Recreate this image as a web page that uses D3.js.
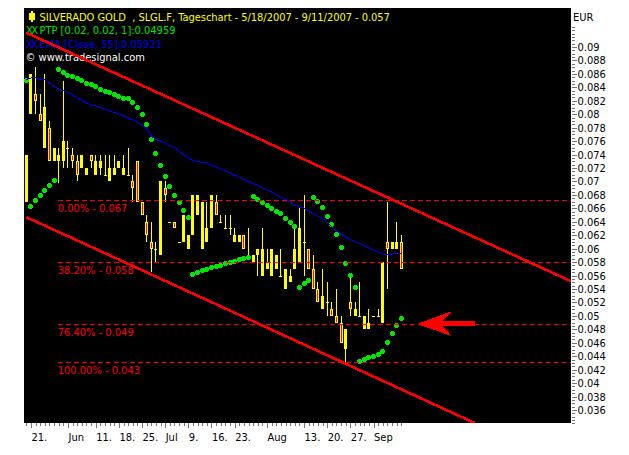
<!DOCTYPE html>
<html><head><meta charset="utf-8">
<script src="https://cdn.jsdelivr.net/npm/d3@7/dist/d3.min.js"></script>
<style>
html,body{margin:0;padding:0;background:#fff}
svg{display:block}
text{font-family:"DejaVu Sans",sans-serif;font-stretch:condensed}
</style></head><body><div id="c"></div>
<script>
const opens=[.067,.080,.083,.080,.075,.078,.073,.073,.073,.075,.074,.073,.072,.071,.074,.071,.072,.071,.070,.071,.072,.071,.071,.070,.073,.067,.064,.061,.060,.059,.069,.064,.064,.061,.061,.060,.062,.065,.060,.061,.063,.067,.064,.063,.063,.061,.061,.062,.059,.058,.059,.056,.057,.056,.057,.056,.054,.055,.057,.058,.061,.060,.057,.054,.051,.052,.051,.050,.049,.045,.052,.050,.050,.048,.048,.050,.050,.049,.061,.060,.060,.061];
const highs=[.074,.086,.087,.083,.086,.079,.075,.075,.085,.076,.075,.074,.074,.072,.074,.074,.074,.074,.074,.074,.073,.074,.075,.071,.073,.067,.065,.064,.061,.070,.070,.064,.064,.061,.065,.062,.068,.068,.067,.067,.068,.068,.065,.065,.065,.063,.062,.062,.063,.059,.060,.063,.060,.060,.059,.060,.057,.057,.063,.066,.068,.060,.059,.055,.057,.055,.052,.054,.050,.048,.056,.052,.055,.050,.051,.050,.051,.058,.067,.061,.064,.062];
const lows=[.067,.080,.080,.079,.075,.073,.073,.0697,.072,.072,.072,.070,.072,.071,.072,.071,.071,.071,.070,.071,.072,.071,.071,.067,.067,.065,.061,.0565,.058,.059,.067,.064,.063,.061,.061,.060,.062,.065,.060,.061,.063,.065,.064,.063,.062,.061,.061,.060,.059,.058,.056,.056,.057,.056,.057,.056,.054,.055,.057,.058,.056,.057,.054,.052,.051,.050,.050,.049,.046,.043,.050,.050,.050,.048,.048,.050,.050,.049,.054,.060,.060,.057];
const closes=[.074,.086,.082,.079,.081,.073,.075,.074,.076,.075,.073,.071,.074,.072,.073,.073,.073,.071,.072,.072,.073,.072,.071,.069,.067,.065,.062,.060,.060,.070,.068,.064,.063,.061,.065,.062,.068,.068,.067,.063,.068,.065,.064,.063,.063,.062,.062,.060,.059,.059,.060,.060,.058,.060,.059,.056,.057,.056,.060,.063,.061,.057,.054,.052,.053,.052,.050,.049,.046,.048,.051,.051,.050,.050,.049,.050,.050,.058,.060,.061,.061,.057];
const ptp=[.08498,.06634,.06723,.06798,.06872,.06946,.07021,.08658,.08624,.08583,.08554,.08524,.08499,.08464,.08435,.08405,.08375,.08345,.08326,.08296,.08271,.08241,.08231,.08167,.08107,.08003,.07854,.07631,.07423,.07244,.0708,.06932,.06798,.0668,.06574,.0647,.05622,.05652,.05682,.05696,.05726,.05741,.05756,.05786,.05801,.05815,.05845,.0586,.05875,.06783,.06738,.06693,.06649,.06604,.0656,.0653,.06455,.06396,.06336,.05429,.05488,.05533,.06768,.06708,.06619,.06485,.06366,.06217,.06024,.05786,.05607,.05429,.04327,.04357,.04387,.04402,.04432,.04476,.0461,.04744,.04863,.04959];
const ema=[.08519,.08539,.08539,.08524,.08509,.08464,.08412,.08375,.0835,.08323,.08286,.08241,.08211,.08167,.08137,.08122,.081,.08077,.08048,.08025,.08003,.07973,.07943,.07914,.07884,.07839,.0778,.07676,.07624,.07601,.07571,.07527,.07504,.07452,.07393,.07356,.07311,.07296,.07281,.07274,.07244,.07214,.07185,.07155,.07125,.07095,.07065,.07028,.06998,.06969,.06939,.06909,.06872,.06842,.06798,.06768,.06731,.06693,.06649,.06619,.06604,.0656,.06522,.06485,.06448,.06396,.06321,.06262,.06217,.06173,.06135,.06106,.06076,.06046,.06009,.05979,.05949,.0592,.0592,.0592,.05935,.05921];
const channelTop=[[0,.09213],[117.6,.05518]];
const channelBottom=[[0,.0647],[96.9,.03405]];
const fibLevels=[.0672,.05796,.04873,.04308];
const fibLabels=["0.00% - 0.067","38.20% - 0.058","76.40% - 0.049","100.00% - 0.043"];
const fibStart=6.8, fibEnd=117.8;
const arrow=[[84.45,.04878],[91.9,.05071],[90,.04923],[96.9,.04923],[96.9,.04848],[90,.04848],[91.9,.04699]];
const yTickLabels=["0.09","0.088","0.086","0.084","0.082","0.08","0.078","0.076","0.074","0.072","0.07","0.068","0.066","0.064","0.062","0.06","0.058","0.056","0.054","0.052","0.05","0.048","0.046","0.044","0.042","0.04","0.038","0.036"];
const xTickIdx=[1,9,15,20,25,30,35,40,45,52,60,65,70,75];
const xTickLabels=["21.","Jun","11.","18.","25.","Jul","9.","16.","23.","Aug","13.","20.","27.","Sep"];
const titleText="SILVERADO GOLD  , SLGL.F, Tageschart - 5/18/2007 - 9/11/2007 - 0.057";
const ptpText="PTP [0.02, 0.02, 1]:0.04959", emaText="EMA [Close, 55]:0.05921", siteText="\u00a9 www.tradesignal.com";

const W=629,H=455;
const plot={l:24,t:8,r:571,b:423};
const x=d3.scaleLinear().domain([0,81]).range([26.3,401.3]);
const y=d3.scaleLinear().domain([.09,.036]).range([47,410]);
const svg=d3.select("#c").append("svg").attr("width",W).attr("height",H).attr("viewBox",`0 0 ${W} ${H}`);
svg.append("defs").append("clipPath").attr("id","p").append("rect").attr("x",plot.l).attr("y",plot.t).attr("width",plot.r-plot.l).attr("height",plot.b-plot.t);
svg.append("rect").attr("x",plot.l).attr("y",plot.t).attr("width",plot.r-plot.l).attr("height",plot.b-plot.t).attr("fill","#000");

// header text
const FS=11;
const hdr=svg.append("g").style("font-size",FS+"px");
hdr.append("text").attr("x",39.5).attr("y",21).attr("fill","#ffff00").attr("xml:space","preserve").style("white-space","pre").style("letter-spacing","-0.03px").text(titleText);
hdr.append("rect").attr("x",29).attr("y",13).attr("width",6).attr("height",7).attr("fill","#ffff00");
hdr.append("rect").attr("x",31).attr("y",11).attr("width",2).attr("height",11).attr("fill","#ffff00");
hdr.append("text").attr("x",26).attr("y",34).attr("fill","#00e000").style("letter-spacing","-1.5px").text("XX");
hdr.append("text").attr("x",39.5).attr("y",34).attr("fill","#00e000").text(ptpText);
hdr.append("text").attr("x",26).attr("y",47.5).attr("fill","#0000f0").style("letter-spacing","-1.5px").text("XX");
hdr.append("text").attr("x",39.5).attr("y",47.5).attr("fill","#0000f0").text(emaText);
hdr.append("text").attr("x",25.5).attr("y",61).attr("fill","#fff").text(siteText);

const g=svg.append("g").attr("clip-path","url(#p)").attr("shape-rendering","crispEdges");
const idx=d3.range(opens.length);
const cx=i=>Math.floor(x(i));
g.selectAll("rect.w").data(idx).join("rect").attr("class","w")
 .attr("x",cx).attr("width",1).attr("y",i=>Math.round(y(highs[i]))).attr("height",i=>Math.max(1,Math.round(y(lows[i]))-Math.round(y(highs[i])))).attr("fill","#ffff00");
const bt=i=>Math.round(y(Math.max(opens[i],closes[i])));
const bb=i=>Math.round(y(Math.min(opens[i],closes[i])));
g.selectAll("rect.b").data(idx).join("rect").attr("class","b")
 .attr("x",i=>cx(i)-1).attr("width",3).attr("y",bt).attr("height",i=>Math.max(1,bb(i)-bt(i))).attr("fill","#ffff00");
g.selectAll("rect.d").data(idx.filter(i=>closes[i]<opens[i])).join("rect").attr("class","d")
 .attr("x",cx).attr("width",1).attr("y",i=>bt(i)+1).attr("height",i=>Math.max(0,bb(i)-bt(i)-2)).attr("fill","#ff0000");

g.selectAll("circle.dot").data(idx).join("circle").attr("class","dot")
 .attr("cx",i=>Math.floor(x(i))+0.5).attr("cy",i=>Math.floor(y(ptp[i]))+0.5).attr("r",2.35)
 .attr("fill","#00e600");
g.append("path").attr("d",d3.line().x((d,i)=>x(i)).y(d=>y(d))(ema)).attr("fill","none").attr("stroke","#0000ff").attr("stroke-width",1);

g.selectAll("line.f").data(fibLevels).join("line").attr("class","f")
 .attr("x1",x(fibStart)).attr("x2",x(fibEnd)).attr("y1",d=>y(d)).attr("y2",d=>y(d))
 .attr("stroke","#ff0000").attr("stroke-width",1).attr("stroke-dasharray","5 3");
const fibT=svg.append("g").style("font-size",FS+"px");
fibT.selectAll("text").data(fibLevels).join("text").attr("x",x(fibStart)).attr("y",d=>y(d)+12).attr("fill","#ff0000").text((d,i)=>fibLabels[i]);

[channelTop,channelBottom].forEach(c=>{
 g.append("path").attr("d",d3.line().x(d=>x(d[0])).y(d=>y(d[1]))(c)).attr("fill","none").attr("stroke","#ff0000").attr("stroke-width",2.6);
});
g.append("path").attr("d",d3.line().x(d=>x(d[0])).y(d=>y(d[1])).curve(d3.curveLinearClosed)(arrow)).attr("fill","#ff0000");

// axes
const yMinor=d3.range(0,119).map(k=>.093-k*.0005);
const ya=svg.append("g").attr("transform",`translate(${plot.r+0.5},0)`);
ya.call(d3.axisRight(y).tickValues(yMinor).tickSize(3).tickFormat("")).call(s=>s.select(".domain").remove());
ya.selectAll("line").attr("stroke","#777").attr("shape-rendering","crispEdges");
const yb=svg.append("g").attr("transform",`translate(${plot.r+0.5},0)`);
yb.call(d3.axisRight(y).tickValues(yTickLabels.map(Number)).tickSize(5).tickPadding(1).tickFormat((d,i)=>yTickLabels[i])).call(s=>s.select(".domain").remove());
yb.selectAll("line").attr("stroke","#777").attr("shape-rendering","crispEdges");
yb.selectAll("text").attr("fill","#000").style("font-size",FS+"px").style("font-family",'"DejaVu Sans"');
svg.append("text").attr("x",573).attr("y",21).attr("fill","#000").style("font-size",FS+"px").text("EUR");

const xa=svg.append("g").attr("transform",`translate(0,${plot.b})`);
xa.call(d3.axisBottom(x).tickValues(idx).tickSize(3).tickFormat("")).call(s=>s.select(".domain").remove());
xa.selectAll("line").attr("stroke","#777").attr("shape-rendering","crispEdges");
const xb=svg.append("g").attr("transform",`translate(0,${plot.b})`);
xb.call(d3.axisBottom(x).tickValues(xTickIdx).tickSize(5).tickPadding(5).tickFormat((d,i)=>xTickLabels[i])).call(s=>s.select(".domain").remove());
xb.selectAll("line").attr("stroke","#777").attr("shape-rendering","crispEdges");
xb.selectAll("text").attr("text-anchor","start").attr("fill","#000").style("font-size",FS+"px").style("font-family",'"DejaVu Sans"');
</script></body></html>
